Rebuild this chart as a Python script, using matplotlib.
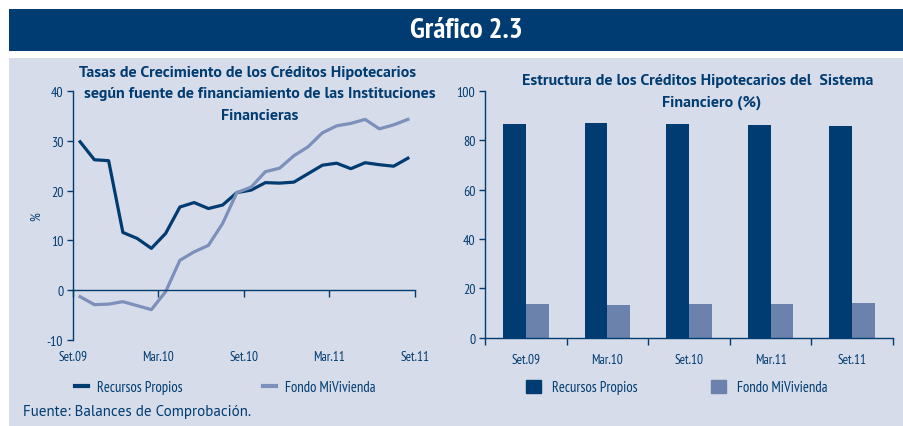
import matplotlib
matplotlib.use("Agg")
import matplotlib.pyplot as plt
from matplotlib.patches import Rectangle
from matplotlib.lines import Line2D
import numpy as np

# ---------------- data ----------------
line_tick_labels = ["Set.09", "Mar.10", "Set.10", "Mar.11", "Set.11"]
recursos_propios_growth = [29.8, 26.2, 26.0, 11.6, 10.4, 8.4, 11.4, 16.7, 17.6, 16.4,
                           17.1, 19.6, 20.1, 21.6, 21.5, 21.7, 23.4, 25.1, 25.5, 24.4,
                           25.6, 25.2, 24.9, 26.5]
fondo_mivivienda_growth = [-1.3, -2.9, -2.8, -2.3, -3.1, -3.9, -0.3, 6.0, 7.7, 9.0,
                           13.4, 19.6, 20.7, 23.8, 24.5, 27.0, 28.8, 31.6, 33.0, 33.5,
                           34.3, 32.4, 33.2, 34.3]

bar_categories = ["Set.09", "Mar.10", "Set.10", "Mar.11", "Set.11"]
recursos_propios_share = [86.5, 86.8, 86.5, 86.2, 85.8]
fondo_mivivienda_share = [13.5, 13.2, 13.5, 13.8, 14.2]

series_names = ["Recursos Propios", "Fondo MiVivienda"]

# ---------------- style ----------------
NAVY = "#003b71"
LIGHT_LINE = "#7c90bb"
LIGHT_BAR = "#6b82ac"
BG = "#d6dce9"
NARROW = ["PT Sans Narrow", "Roboto Condensed", "IBM Plex Sans Condensed", "DejaVu Sans"]
TITLEF = ["PT Sans", "Fira Sans", "Lato", "DejaVu Sans"]

W, H = 904, 427
fig = plt.figure(figsize=(W / 100, H / 100), dpi=100)
fig.patch.set_facecolor("white")

def fx(px):
    return px / W

def fy(py):
    return 1 - py / H

# header banner
fig.add_artist(Rectangle((fx(9), fy(52)), fx(904 - 9), (52 - 10) / H,
                         transform=fig.transFigure, facecolor="#003b71",
                         edgecolor="none", zorder=0))
fig.text(fx(466), fy(31), "Gráfico 2.3", color="white", fontsize=21,
         fontweight="bold", family=NARROW, ha="center", va="center")
# panel background
fig.add_artist(Rectangle((fx(9), 0), fx(904 - 9), (H - 59) / H,
                         transform=fig.transFigure, facecolor=BG,
                         edgecolor="none", zorder=0))

# ---------------- left: line chart ----------------
ax1 = fig.add_axes([fx(73), fy(341), fx(415 - 73), (341 - 92) / H])
ax1.set_facecolor("none")
x = np.arange(len(recursos_propios_growth)) + 0.5
ax1.plot(x, recursos_propios_growth, color=NAVY, lw=2.3, solid_joinstyle="round")
ax1.plot(x, fondo_mivivienda_growth, color=LIGHT_LINE, lw=2.3, solid_joinstyle="round")
ax1.set_xlim(0, 24)
ax1.set_ylim(-10, 40)
ax1.set_yticks(np.arange(-10, 41, 10))
ax1.set_yticklabels([str(v) for v in range(-10, 41, 10)], family=NARROW, fontsize=10, color=NAVY)
for s in ["top", "right"]:
    ax1.spines[s].set_visible(False)
ax1.spines["left"].set_color(NAVY)
ax1.spines["bottom"].set_color(NAVY)
ax1.spines["bottom"].set_position(("data", 0))
ax1.spines["left"].set_linewidth(1)
ax1.spines["bottom"].set_linewidth(1)
ax1.set_xticks([0, 6, 12, 18, 24])
ax1.set_xticklabels([])
ax1.tick_params(axis="x", direction="out", length=5, color=NAVY, width=1)
ax1.tick_params(axis="y", direction="out", length=4, color=NAVY, width=1, pad=3)
for pos, lab in zip([0, 6, 12, 18, 24], line_tick_labels):
    ax1.text(pos, -0.068, lab, transform=ax1.get_xaxis_transform(), ha="center",
             va="center", family=NARROW, fontsize=9.5, color=NAVY)
ax1.set_ylabel("%", family=NARROW, fontsize=10, color=NAVY, labelpad=3)

fig.text(fx(248), fy(73),
         "Tasas de Crecimiento de los Créditos Hipotecarios", ha="center",
         va="center", fontsize=11.5, fontweight="bold", family=TITLEF, color=NAVY)
fig.text(fx(260), fy(94),
         "según fuente de financiamiento de las Instituciones", ha="center",
         va="center", fontsize=11.5, fontweight="bold", family=TITLEF, color=NAVY)
fig.text(fx(260), fy(116), "Financieras", ha="center",
         va="center", fontsize=11.5, fontweight="bold", family=TITLEF, color=NAVY)

h1 = [Line2D([], [], color=NAVY, lw=3), Line2D([], [], color=LIGHT_LINE, lw=3)]
fig.legend(h1, series_names, loc="center", bbox_to_anchor=(fx(225), fy(388)),
           ncol=2, frameon=False, handlelength=0.9, handletextpad=0.6,
           columnspacing=5.5, prop={"family": NARROW, "size": 10.5},
           labelcolor=NAVY)

# ---------------- right: bar chart ----------------
ax2 = fig.add_axes([fx(485), fy(338.7), fx(893 - 485), (338.7 - 91.7) / H])
ax2.set_facecolor("none")
xb = np.arange(len(bar_categories))
bw = 0.28
ax2.bar(xb - bw / 2, recursos_propios_share, width=bw, color=NAVY, edgecolor="none")
ax2.bar(xb + bw / 2, fondo_mivivienda_share, width=bw, color=LIGHT_BAR, edgecolor="none")
ax2.set_xlim(-0.5, len(bar_categories) - 0.5)
ax2.set_ylim(0, 100)
ax2.set_yticks(np.arange(0, 101, 20))
ax2.set_yticklabels([str(v) for v in range(0, 101, 20)], family=NARROW, fontsize=10, color=NAVY)
for s in ["top", "right"]:
    ax2.spines[s].set_visible(False)
for s in ["left", "bottom"]:
    ax2.spines[s].set_color(NAVY)
    ax2.spines[s].set_linewidth(1)
ax2.set_xticks(np.arange(-0.5, len(bar_categories)))
ax2.set_xticklabels([])
ax2.set_xticks(xb, minor=True)
ax2.set_xticklabels(bar_categories, minor=True, family=NARROW, fontsize=9.5, color=NAVY)
ax2.tick_params(axis="x", which="major", direction="out", length=5, color=NAVY, width=1)
ax2.tick_params(axis="x", which="minor", length=0, pad=11)
ax2.tick_params(axis="y", direction="out", length=4, color=NAVY, width=1, pad=3)

fig.text(fx(698), fy(81),
         "Estructura de los Créditos Hipotecarios del  Sistema", ha="center",
         va="center", fontsize=11.5, fontweight="bold", family=TITLEF, color=NAVY)
fig.text(fx(712), fy(103), "Financiero (%)", ha="center",
         va="center", fontsize=11.5, fontweight="bold", family=TITLEF, color=NAVY)

h2 = [Rectangle((0, 0), 1, 1, color=NAVY), Rectangle((0, 0), 1, 1, color=LIGHT_BAR)]
fig.legend(h2, series_names, loc="center", bbox_to_anchor=(fx(677), fy(388)),
           ncol=2, frameon=False, handlelength=1.0, handleheight=1.0,
           handletextpad=0.8, columnspacing=5.0,
           prop={"family": NARROW, "size": 10.5}, labelcolor=NAVY)

fig.text(fx(23), fy(412), "Fuente: Balances de Comprobación.", ha="left",
         va="center", fontsize=10.8, family=TITLEF, color=NAVY)

fig.savefig("out.png", dpi=100, facecolor=fig.get_facecolor())
